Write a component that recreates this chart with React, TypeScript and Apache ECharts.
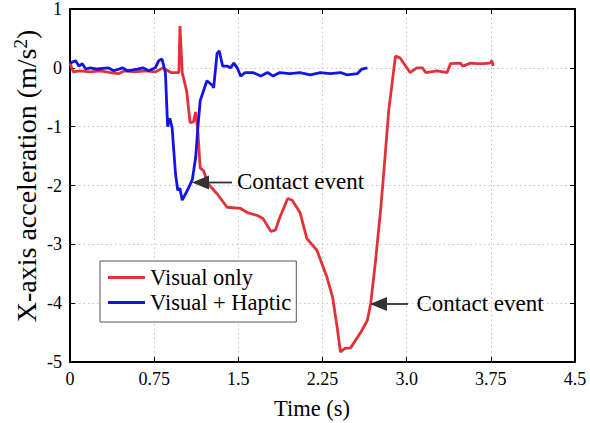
import React, { useEffect, useRef } from "react";
import * as echarts from "echarts";

const xTicks = [0, 0.75, 1.5, 2.25, 3.0, 3.75, 4.5];
const yTicks = [1, 0, -1, -2, -3, -4, -5];

const visualOnlyT = [0.0, 0.03, 0.09, 0.18, 0.27, 0.36, 0.43, 0.49, 0.58, 0.67, 0.76, 0.83, 0.9, 0.97, 0.98, 1.0, 1.04, 1.07, 1.1, 1.12, 1.14, 1.16, 1.19, 1.23, 1.31, 1.4, 1.52, 1.58, 1.67, 1.72, 1.79, 1.83, 1.87, 1.94, 1.98, 2.05, 2.11, 2.2, 2.29, 2.34, 2.38, 2.41, 2.45, 2.5, 2.59, 2.65, 2.68, 2.72, 2.77, 2.79, 2.84, 2.9, 2.94, 3.03, 3.09, 3.14, 3.17, 3.27, 3.36, 3.39, 3.48, 3.5, 3.57, 3.63, 3.68, 3.74, 3.76, 3.77];
const visualOnlyA = [0.08, -0.07, -0.05, -0.07, -0.05, -0.08, -0.1, -0.05, -0.07, -0.05, -0.07, 0.0, -0.08, -0.08, 0.71, -0.08, -0.4, -0.93, -0.92, -0.75, -1.1, -1.7, -1.75, -1.97, -2.14, -2.37, -2.39, -2.46, -2.51, -2.56, -2.78, -2.76, -2.54, -2.22, -2.25, -2.46, -2.9, -3.1, -3.56, -3.9, -4.4, -4.83, -4.77, -4.76, -4.5, -4.29, -4.0, -3.33, -2.37, -1.92, -0.73, 0.2, 0.17, -0.08, 0.0, 0.0, -0.08, -0.05, -0.08, 0.07, 0.08, 0.03, 0.08, 0.07, 0.07, 0.08, 0.12, 0.03];

const hapticT = [0.0, 0.05, 0.08, 0.11, 0.14, 0.18, 0.24, 0.34, 0.39, 0.47, 0.51, 0.6, 0.65, 0.7, 0.76, 0.79, 0.82, 0.85, 0.87, 0.89, 0.91, 0.94, 0.96, 0.98, 1.0, 1.03, 1.06, 1.09, 1.12, 1.14, 1.16, 1.19, 1.22, 1.27, 1.28, 1.31, 1.33, 1.36, 1.4, 1.43, 1.46, 1.49, 1.52, 1.56, 1.63, 1.7, 1.76, 1.81, 1.87, 1.96, 2.05, 2.14, 2.23, 2.32, 2.41, 2.47, 2.56, 2.6, 2.65];
const hapticA = [0.08, 0.12, 0.03, 0.07, -0.02, 0.0, -0.02, 0.0, -0.05, 0.0, -0.05, -0.02, 0.0, -0.05, 0.0, 0.12, 0.15, -0.08, -1.0, -0.86, -1.02, -1.8, -2.08, -2.05, -2.25, -2.14, -2.03, -1.9, -1.52, -1.0, -0.56, -0.39, -0.22, -0.3, -0.34, 0.24, 0.29, 0.03, 0.03, 0.0, 0.08, 0.0, -0.14, -0.08, -0.08, -0.14, -0.08, -0.14, -0.08, -0.1, -0.08, -0.12, -0.08, -0.1, -0.08, -0.12, -0.1, -0.02, 0.0];

const seriesNames = ["Visual only", "Visual + Haptic"];
const annotationText = "Contact event";
const xTitle = "Time (s)";

const FONT = "Liberation Serif";

function zip(t: number[], a: number[]) {
  return t.map((v, i) => [v, a[i]]);
}

function arrow(tail: number, tip: number, y: number) {
  return [
    { type: "line", shape: { x1: tail, y1: y, x2: tip + 14, y2: y }, style: { stroke: "#333", lineWidth: 1.8 }, z: 10 },
    { type: "polygon", shape: { points: [[tip, y], [tip + 17, y - 7], [tip + 17, y + 7]] }, style: { fill: "#333" }, z: 10 },
  ];
}

function richText(x: number, y: number, text: string, size: number, align: string) {
  return {
    type: "text",
    x,
    y,
    style: {
      text: `{a|${text}}`,
      align,
      verticalAlign: "middle",
      fill: "#000",
      rich: { a: { fontFamily: FONT, fontSize: size, fill: "#000" } },
    },
    z: 10,
  };
}

export default function App() {
  const ref = useRef<HTMLDivElement>(null);
  useEffect(() => {
    if (!ref.current) return;
    const chart = echarts.init(ref.current, null, { renderer: "svg" });
    const gridStyle = { show: true, showMinLine: false, showMaxLine: false, lineStyle: { color: "#c4c4c4", type: [1.5, 3], width: 1 } };
    const axisLine = { show: true, onZero: false, lineStyle: { color: "#000", width: 2 } };
    const tick = { show: true, inside: true, length: 5, lineStyle: { color: "#000", width: 1 } };
    const labelRich = { t: { fontFamily: FONT, fontSize: 18, color: "#000" } };
    chart.setOption({
      animation: false,
      backgroundColor: "#fff",
      textStyle: { fontFamily: FONT },
      grid: { left: 70, right: 15, top: 8, bottom: 61, show: false },
      legend: {
        orient: "vertical",
        left: 100,
        top: 261,
        data: seriesNames,
        icon: "rect",
        itemWidth: 37,
        itemHeight: 3,
        itemGap: 2,
        padding: [5, 5, 8, 8],
        borderColor: "#555",
        borderWidth: 1,
        backgroundColor: "#fff",
        formatter: (name: string) => `{l|${name}}`,
        textStyle: {
          fontFamily: FONT,
          fontSize: 22.5,
          color: "#000",
          rich: { l: { fontFamily: FONT, fontSize: 22.5, color: "#000", lineHeight: 23 } },
        },
      },
      xAxis: [
        {
          type: "value",
          min: 0,
          max: 4.5,
          interval: 0.75,
          axisLine,
          axisTick: tick,
          splitLine: gridStyle,
          axisLabel: {
            fontFamily: FONT,
            fontSize: 18,
            color: "#000",
            margin: 8,
            rich: labelRich,
            formatter: (v: number) => {
              const m = xTicks.find((t) => Math.abs(t - v) < 1e-6);
              if (m === undefined) return "";
              return `{t|${m === 3 ? "3.0" : String(m)}}`;
            },
          },
        },
        {
          type: "value",
          position: "top",
          min: 0,
          max: 4.5,
          interval: 0.75,
          axisLine,
          axisTick: tick,
          splitLine: { show: false },
          axisLabel: { show: false },
        },
      ],
      yAxis: [
        {
          type: "value",
          min: -5,
          max: 1,
          interval: 1,
          axisLine,
          axisTick: tick,
          splitLine: gridStyle,
          axisLabel: {
            fontFamily: FONT,
            fontSize: 18,
            color: "#000",
            margin: 8,
            rich: labelRich,
            formatter: (v: number) => {
              const r = Math.round(v);
              return yTicks.includes(r) ? `{t|${r}}` : "";
            },
          },
        },
        {
          type: "value",
          position: "right",
          min: -5,
          max: 1,
          interval: 1,
          axisLine,
          axisTick: tick,
          splitLine: { show: false },
          axisLabel: { show: false },
        },
      ],
      series: [
        {
          name: seriesNames[0],
          type: "line",
          data: zip(visualOnlyT, visualOnlyA),
          symbol: "none",
          lineStyle: { color: "#e23238", width: 2.8 },
          itemStyle: { color: "#e23238" },
          z: 3,
        },
        {
          name: seriesNames[1],
          type: "line",
          data: zip(hapticT, hapticA),
          symbol: "none",
          lineStyle: { color: "#1414e4", width: 2.8 },
          itemStyle: { color: "#1414e4" },
          z: 4,
        },
      ],
      graphic: [
        ...arrow(232, 192, 182.5),
        richText(237, 181, annotationText, 23, "left"),
        ...arrow(408, 370, 304),
        richText(416.5, 303, annotationText, 23, "left"),
        richText(312, 408, xTitle, 22.5, "center"),
        {
          type: "text",
          x: 26,
          y: 176,
          rotation: Math.PI / 2,
          style: {
            text: "{n|X-axis acceleration (m/s}{sup|2}{n|)}",
            align: "center",
            verticalAlign: "middle",
            fill: "#000",
            rich: {
              n: { fontFamily: FONT, fontSize: 28, fill: "#000" },
              sup: { fontFamily: FONT, fontSize: 19, fill: "#000", padding: [0, 0, 12, 0] },
            },
          },
          z: 10,
        },
      ],
    });
    return () => chart.dispose();
  }, []);
  return <div ref={ref} style={{ position: "fixed", left: 0, top: 0, width: 590, height: 423 }} />;
}
